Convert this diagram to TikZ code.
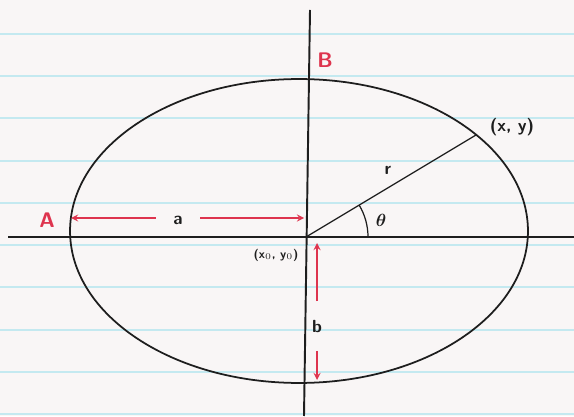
\documentclass[tikz,border=0pt]{standalone}
\usepackage{amsmath}
\usetikzlibrary{arrows,positioning,calc}
\definecolor{paper}{RGB}{249,246,246}
\definecolor{ruling}{RGB}{196,233,240}
\definecolor{ink}{RGB}{30,30,30}
\definecolor{redink}{RGB}{222,52,78}

\begin{document}
\begin{tikzpicture}[
    x=0.02cm, y=0.02cm,
    % Style definitions
    axis/.style={draw=ink, line width=1.1pt},
    curve/.style={draw=ink, line width=1pt},
    radiusline/.style={draw=ink, line width=0.7pt},
    dimarrow/.style={->, >=stealth, draw=redink, line width=0.8pt},
    redlabel/.style={text=redink, font=\sffamily\bfseries\large},
    inklabel/.style={text=ink, font=\sffamily\bfseries, inner sep=1pt},
    rule/.style={draw=ruling, line width=1.6pt}
]

% Paper
\fill[paper] (0,0) rectangle (574,416);
\useasboundingbox (0,0) rectangle (574,416);
\foreach \y in {2,44,86,129,171,213,255,298,340,382}
    \draw[rule] (0,\y) -- (574,\y);

% Axes
\coordinate (xstart) at (8,179);
\coordinate (xend) at (574,179);
\coordinate (ytop) at (310,406);
\coordinate (ybot) at (304,0);
\coordinate (O) at (306,179);
\coordinate (P) at (476,281);

\draw[axis] (xstart) -- (xend);
\draw[axis] (ytop) -- (ybot);

% Ellipse
\draw[curve] (299,185) ellipse [x radius=4.58cm, y radius=3.04cm];

% Radius and angle
\draw[radiusline] (O) -- (P);
\draw[radiusline] ($(O)+(62,0)$) arc[start angle=0, end angle=31, radius=1.24cm];

% Labels
\node[redlabel] (A) at (47,196) {A};
\node[redlabel] (B) at (325,356) {B};
\node[inklabel, minimum width=0.88cm] (alab) at (178,196) {a};
\node[inklabel, minimum height=0.98cm] (blab) at (317,90) {b};
\node[inklabel] (rlab) at (388,246) {r};
\node[inklabel] (thlab) at (381,196) {$\boldsymbol{\theta}$};
\node[inklabel] (xy) at (512,289) {(x, y)};
\node[inklabel, font=\sffamily\bfseries\scriptsize] (centre) at (276,161) {(x$_0$, y$_0$)};

% Semi-axis arrows
\coordinate (aL) at (71,198);
\coordinate (aR) at (304,198);
\coordinate (bT) at (317,173);
\coordinate (bB) at (317,36);

\draw[dimarrow] (alab.west |- aL) -- (aL);
\draw[dimarrow] (alab.east |- aR) -- (aR);
\draw[dimarrow] (blab.north) -- (bT);
\draw[dimarrow] (blab.south) -- (bB);

\end{tikzpicture}
\end{document}
